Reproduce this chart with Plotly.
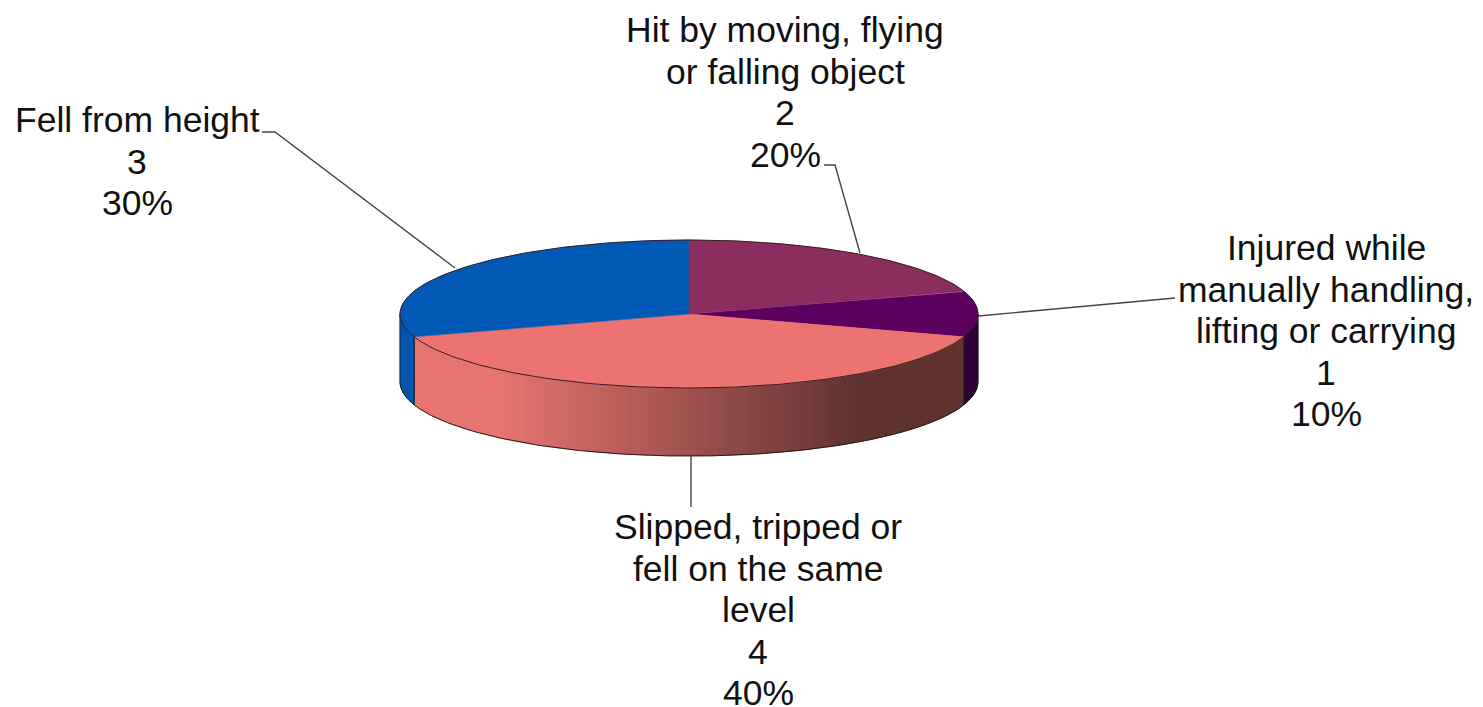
import math
import plotly.graph_objects as go

categories = [["Injured while", "manually handling,", "lifting or carrying"],
              ["Slipped, tripped or", "fell on the same", "level"],
              ["Fell from height"],
              ["Hit by moving, flying", "or falling object"]]
values = [1, 4, 3, 2]
# the pie starts at this share of the turn (clockwise from 12 o'clock), after the "Hit" slice
start_share = 0.2
top_colors = ["#5c0060", "#ec7372", "#005ab5", "#8c2d60"]
side_colors = ["#2d0036", None, "#0056ac", "#5a1c40"]
side_left = "#e87572"
side_right = "#60332f"
label_x = [1326, 758, 137, 785]
label_top = [248, 527, 120, 30]
LINE_PITCH = 41.5
leaders = [[(978, 316), (1175, 298)],
           [(691, 456), (691, 507)],
           [(262, 132), (275, 132), (455, 268)],
           [(824, 165), (835, 165), (860, 253)]]

CX, CY, RX, RY, DEPTH = 689, 314, 289, 74, 68
total = sum(values)


def pt(share, dy=0):
    a = 2 * math.pi * share
    return CX + RX * math.sin(a), CY - RY * math.cos(a) + dy


def arc(s0, s1, dy=0, n=80):
    return [pt(s0 + (s1 - s0) * i / n, dy) for i in range(n + 1)]


def mix(c0, c1, t):
    a = [int(c0[i:i + 2], 16) for i in (1, 3, 5)]
    b = [int(c1[i:i + 2], 16) for i in (1, 3, 5)]
    return "rgb(%d,%d,%d)" % tuple(round(p + (q - p) * t) for p, q in zip(a, b))


fig = go.Figure()


def poly(points, fill, line=None, width=0.8):
    xs = [p[0] for p in points]
    ys = [p[1] for p in points]
    fig.add_trace(go.Scatter(x=xs + xs[:1], y=ys + ys[:1], mode="lines", fill="toself",
                             fillcolor=fill, line=dict(color=line or fill, width=width),
                             hoverinfo="skip", showlegend=False))


# walls and top faces
spans = []
s = start_share
for v in values:
    spans.append((s, s + v / total))
    s += v / total

for (s0, s1), col in zip(spans, side_colors):
    a0, a1 = max(s0, 0.25), min(s1, 0.75)
    if a1 <= a0:
        continue
    if col:
        poly(arc(a0, a1) + arc(a0, a1, DEPTH)[::-1], col)
    else:
        n = 120
        for i in range(n):
            b0 = a0 + (a1 - a0) * i / n
            b1 = min(a0 + (a1 - a0) * (i + 1.3) / n, a1)
            x = pt(b0)[0]
            # the shade runs from bright at about x=500 to dark at about x=860
            t = min(1, max(0, (x - 500) / 360))
            c = mix(side_left, side_right, t)
            poly(arc(b0, b1, 0, 2) + arc(b0, b1, DEPTH, 2)[::-1], c, c, 0.5)

bottom = arc(0.25, 0.75, DEPTH, 200)
fig.add_trace(go.Scatter(x=[p[0] for p in bottom], y=[p[1] for p in bottom], mode="lines",
                         line=dict(color="#2a1a1a", width=1), hoverinfo="skip", showlegend=False))
for (s0, s1) in spans:
    a0, a1 = max(s0, 0.25), min(s1, 0.75)
    if a1 > a0:
        for a in (a0, a1):
            p, q = pt(a), pt(a, DEPTH)
            fig.add_trace(go.Scatter(x=[p[0], q[0]], y=[p[1], q[1]], mode="lines",
                                     line=dict(color="#2a1a2a", width=0.8),
                                     hoverinfo="skip", showlegend=False))

for (s0, s1), col in zip(spans, top_colors):
    poly([(CX, CY)] + arc(s0, s1), col, col, 0.5)
# rim outline
rim = arc(0, 1, 0, 300)
fig.add_trace(go.Scatter(x=[p[0] for p in rim], y=[p[1] for p in rim], mode="lines",
                         line=dict(color="#3a1a24", width=1), hoverinfo="skip", showlegend=False))

# leader lines
for seg in leaders:
    fig.add_trace(go.Scatter(x=[p[0] for p in seg], y=[p[1] for p in seg], mode="lines",
                             line=dict(color="#444444", width=1.4),
                             hoverinfo="skip", showlegend=False))

# labels, one real text per line so the line pitch can be tighter than the default
for cat, v, x, y0 in zip(categories, values, label_x, label_top):
    lines = cat + [str(v), f"{round(100 * v / total)}%"]
    for i, line in enumerate(lines):
        fig.add_annotation(x=x, y=y0 + i * LINE_PITCH, text=line, showarrow=False,
                           xanchor="center", yanchor="middle", align="center",
                           font=dict(family="Liberation Sans", size=35.5, color="#111111"))

fig.update_layout(width=1483, height=707, margin=dict(l=0, r=0, t=0, b=0),
                  paper_bgcolor="white", plot_bgcolor="white", showlegend=False,
                  xaxis=dict(range=[0, 1483], visible=False, fixedrange=True),
                  yaxis=dict(range=[707, 0], visible=False, fixedrange=True))
fig.write_html("out.html", post_script="document.body.style.margin='0';document.body.style.overflow='hidden';",
               config=dict(displayModeBar=False))
